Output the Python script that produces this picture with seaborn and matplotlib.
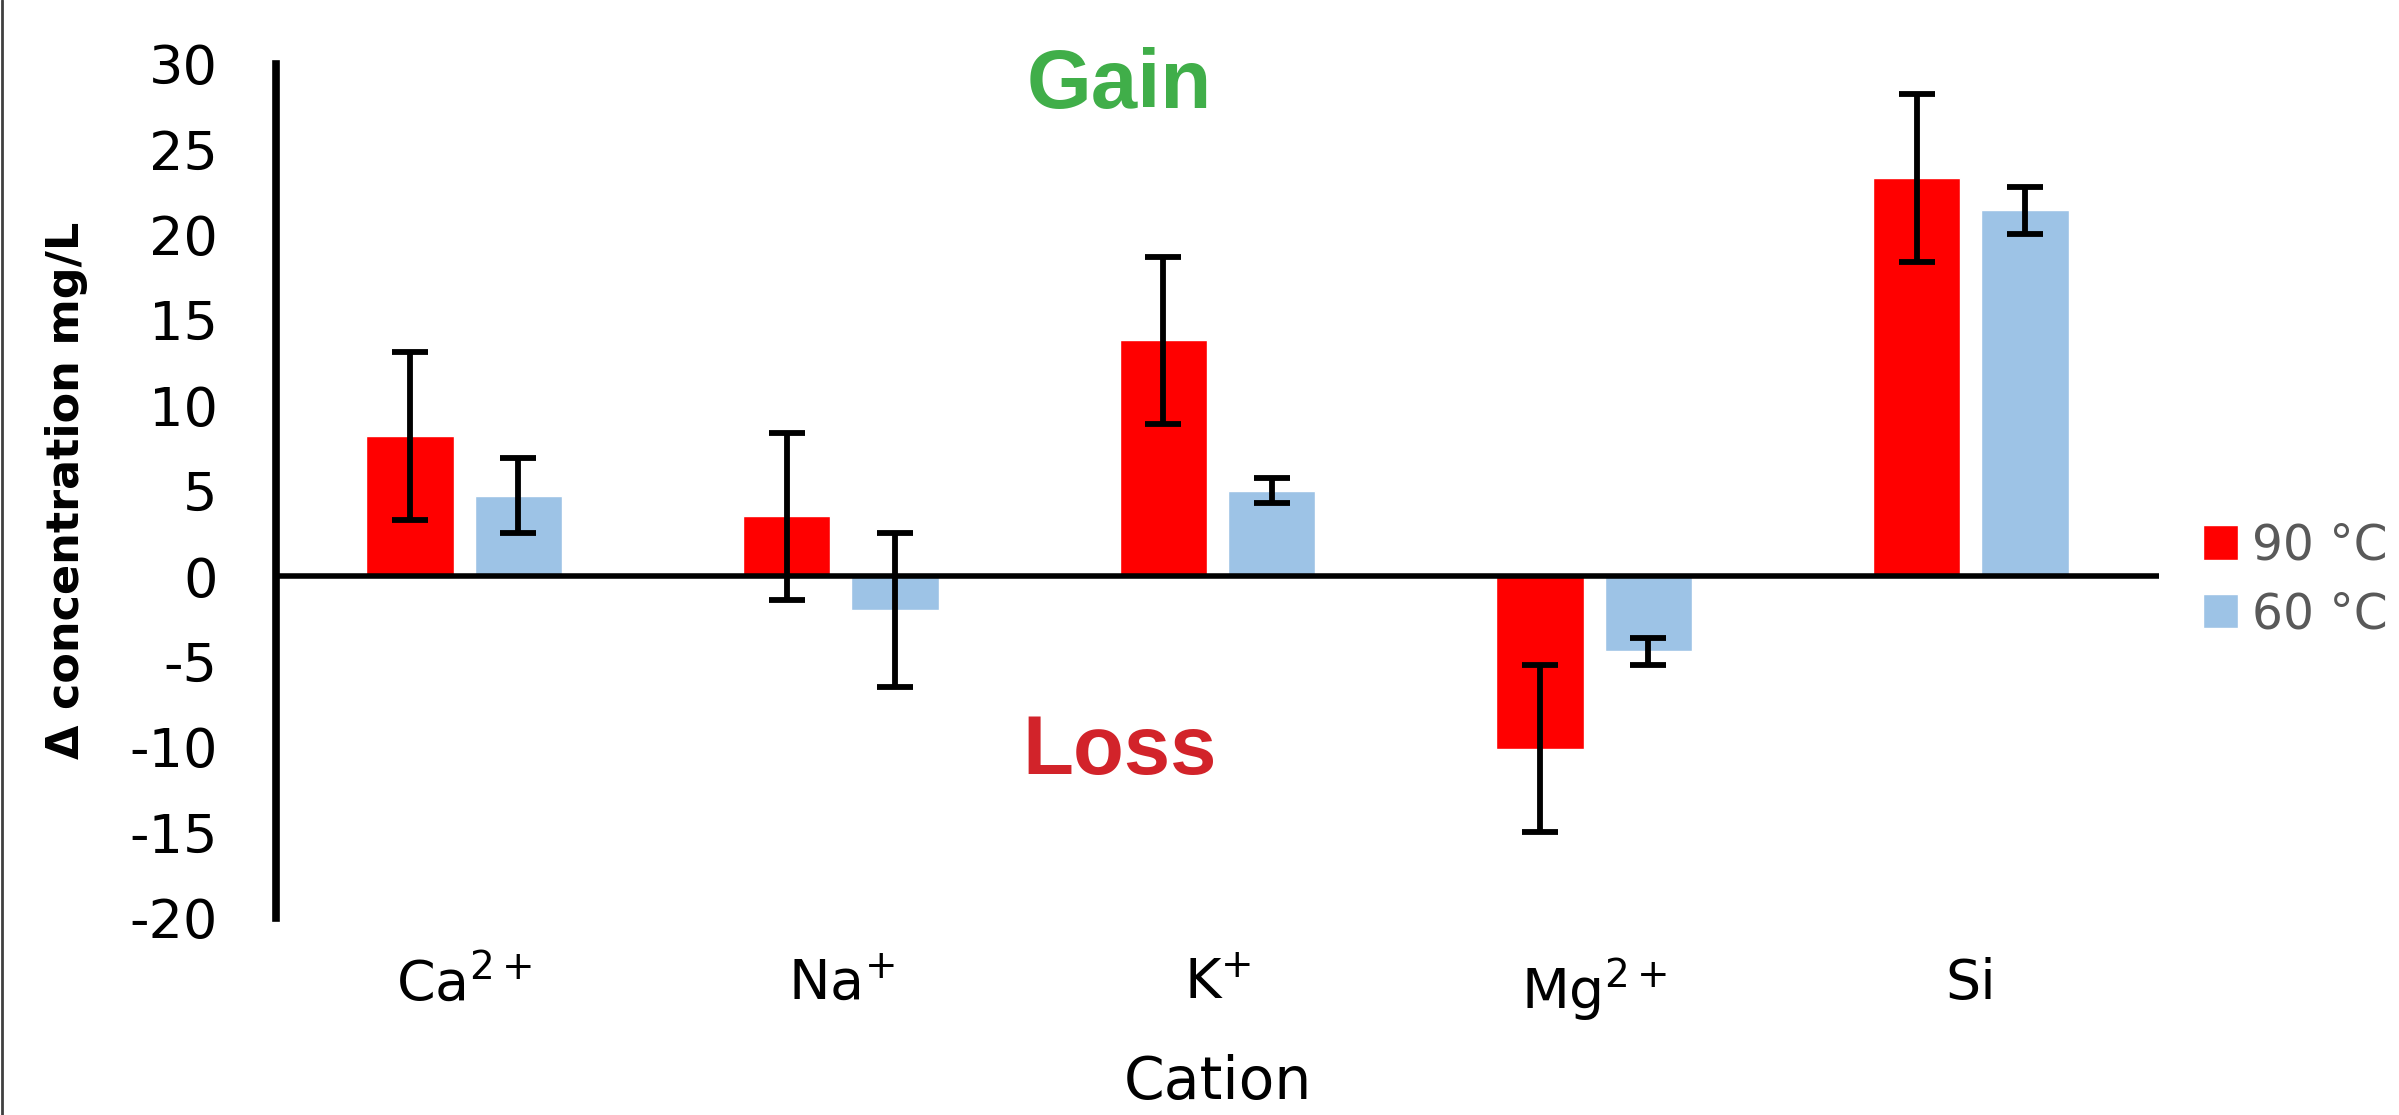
import pandas as pd
import numpy as np
import matplotlib
matplotlib.use("Agg")
import matplotlib.pyplot as plt
import seaborn as sns
from matplotlib.lines import Line2D

# data
cations = [r"Ca$^{2+}$", r"Na$^{+}$", r"K$^{+}$", r"Mg$^{2+}$", "Si"]
temps = ["90 °C", "60 °C"]
vals_90 = [8.2, 3.5, 13.8, -10.1, 23.3]
err_90 = [4.9, 4.9, 4.9, 4.9, 4.9]
vals_60 = [4.7, -2.0, 5.0, -4.4, 21.4]
err_60 = [2.2, 4.5, 0.75, 0.8, 1.35]

df = pd.DataFrame({
    "cation": cations * 2,
    "temp": [temps[0]] * 5 + [temps[1]] * 5,
    "value": vals_90 + vals_60,
})

sns.set_style("white")
plt.rcParams["font.family"] = ["DejaVu Sans"]
plt.rcParams["axes.unicode_minus"] = False
plt.rcParams["text.color"] = "black"
plt.rcParams["axes.labelcolor"] = "black"
plt.rcParams["xtick.color"] = "black"
plt.rcParams["ytick.color"] = "black"

fig = plt.figure(figsize=(23.99, 11.15), dpi=100)
ax = fig.add_axes([0.115, 0.177, 0.785, 0.766])

sns.barplot(data=df, x="cation", y="value", hue="temp", palette=["#FF0000", "#9DC3E6"],
            saturation=1, errorbar=None, width=0.576, gap=0.194, ax=ax, legend=True)

# error bars on each bar
for cont, vals, errs in zip(ax.containers, [vals_90, vals_60], [err_90, err_60]):
    xs = [p.get_x() + p.get_width() / 2 for p in cont]
    ax.errorbar(xs, vals, yerr=errs, fmt="none", ecolor="black", elinewidth=4.2,
                capsize=13, capthick=4.2, zorder=5)

ax.set_xlim(-0.5, 4.5)
ax.set_ylim(-20, 30)
ax.set_yticks(range(-20, 31, 5))
ax.axhline(0, color="black", lw=4, zorder=4)

for s in ["top", "right", "bottom"]:
    ax.spines[s].set_visible(False)
ax.spines["left"].set_linewidth(5.5)
ax.spines["left"].set_color("black")

ax.tick_params(axis="y", length=0, pad=42, labelsize=39)
ax.tick_params(axis="x", length=0, pad=28, labelsize=40)
ax.set_xlabel("Cation", fontsize=42)
ax.xaxis.set_label_coords(0.5, -0.16)
ax.set_ylabel("Δ concentration mg/L", fontsize=32, fontweight="bold")
ax.yaxis.set_label_coords(-0.10, 0.5)

ax.text(1.74, 28.7, "Gain", color="#40AE49", fontsize=60, fontweight="bold",
        family="Liberation Sans", ha="center", va="center")
ax.text(1.74, -10.3, "Loss", color="#D2232A", fontsize=60, fontweight="bold",
        family="Liberation Sans", ha="center", va="center")

handles, labels = ax.get_legend_handles_labels()
ax.get_legend().remove()
leg = fig.legend(handles, labels, loc="center left", bbox_to_anchor=(0.9, 0.48),
                 frameon=False, fontsize=35, handlelength=0.72, handleheight=0.72,
                 handletextpad=0.3, labelspacing=0.42)
for t in leg.get_texts():
    t.set_color("#595959")

fig.add_artist(Line2D([0.001, 0.001], [0, 1], color="#404040", lw=2))

fig.savefig("out.png", dpi=100)
